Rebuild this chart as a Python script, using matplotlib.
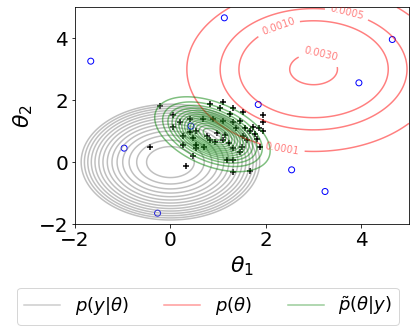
import numpy as np
import matplotlib
matplotlib.use("Agg")
import matplotlib.pyplot as plt
from matplotlib.lines import Line2D

# distribution parameters
lik_mean = [0.0, 0.0]
lik_sd = 1.0
lik_steps = [1, 2, 3, 4, 5, 6, 7, 8, 9, 10, 11, 12, 13, 14]  # r^2 = k/4

prior_mean = [3.0, 3.0]
prior_sd = 1.0
prior_peak = 0.0034
prior_levels = [0.0001, 0.0005, 0.0010, 0.0030]
label_spots = [(2.35, 0.45), (3.70, 4.83), (2.26, 4.37), (3.14, 3.46)]

post_mean = [0.88, 0.90]
post_cov = [[0.27, -0.12], [-0.12, 0.27]]
post_nlev = 14

# samples (black crosses)
cross_x = [-0.22, 0.05, 0.20, 0.05, 0.41, 0.68, 0.41, 0.54, 0.27, 0.47, 0.26, 0.54,
           0.54, -0.43, 0.47, 0.33, 0.70, 1.10, 0.83, 1.04, 1.31, 1.52, 0.90, 1.11,
           1.31, 1.25, 1.46, 1.95, 1.94, 1.38, 1.56, 1.74, 1.67, 1.86, 1.94, 1.52,
           0.97, 1.14, 0.76, 0.94, 1.81, 1.23, 1.49, 1.88, 1.31, 1.46, 1.19, 1.32,
           1.32, 1.67, 0.82, 1.10, 1.60, 1.77]
cross_y = [1.82, 1.53, 1.28, 1.12, 1.40, 1.39, 0.97, 0.99, 0.83, 0.77, 0.56, 0.56,
           0.47, 0.50, 0.21, -0.14, 0.50, 1.95, 1.88, 1.74, 1.76, 1.61, 1.40, 1.33,
           1.28, 1.54, 1.34, 1.53, 1.31, 1.10, 1.10, 1.12, 1.01, 1.10, 1.01, 0.83,
           0.94, 0.88, 0.83, 0.66, 0.74, 0.61, 0.50, 0.50, 0.45, 0.34, 0.07, 0.07,
           -0.32, -0.28, 0.70, 0.70, 0.70, 0.90]

# blue open circles
circ_x = [-1.67, 1.13, 4.65, 3.95, 1.84, 0.43, -0.97, 2.54, 3.24, -0.27]
circ_y = [3.26, 4.66, 3.96, 2.56, 1.86, 1.16, 0.45, -0.25, -0.95, -1.65]

xs = np.linspace(-2, 5, 400)
X, Y = np.meshgrid(xs, xs)

loglik = -0.5 * ((X - lik_mean[0]) ** 2 + (Y - lik_mean[1]) ** 2) / lik_sd ** 2
lik_levels = sorted(-np.array(lik_steps) / 8.0)

prior = prior_peak * np.exp(-0.5 * ((X - prior_mean[0]) ** 2 + (Y - prior_mean[1]) ** 2) / prior_sd ** 2)

P = np.linalg.inv(np.array(post_cov))
dx, dy = X - post_mean[0], Y - post_mean[1]
post = np.exp(-0.5 * (P[0, 0] * dx ** 2 + 2 * P[0, 1] * dx * dy + P[1, 1] * dy ** 2))
post_levels = np.linspace(0, 1, post_nlev + 2)[1:-1]

fig = plt.figure(figsize=(416 / 72, 332 / 72), dpi=72)
ax = fig.add_axes([0.1803, 0.3253, 0.8029, 0.6527])

ax.contour(X, Y, loglik, levels=lik_levels, colors="gray", alpha=0.5,
           linestyles="solid")
cs = ax.contour(X, Y, prior, levels=prior_levels, colors="red", alpha=0.5)
ax.clabel(cs, fmt="%.4f", fontsize=10, manual=label_spots)
ax.contour(X, Y, post, levels=post_levels, colors="green", alpha=0.5)

ax.scatter(cross_x, cross_y, marker="+", color="black", s=36, linewidths=1.5)
ax.scatter(circ_x, circ_y, marker="o", facecolors="none", edgecolors="blue", s=36)

ax.set_xlim(-2, 5)
ax.set_ylim(-2, 5)
ax.set_xticks([-2, 0, 2, 4])
ax.set_yticks([-2, 0, 2, 4])
ax.tick_params(labelsize=20)
ax.set_xlabel(r"$\theta_1$", fontsize=22)
ax.set_ylabel(r"$\theta_2$", fontsize=22)

handles = [Line2D([], [], color="gray", alpha=0.4, lw=1.5),
           Line2D([], [], color="red", alpha=0.4, lw=1.5),
           Line2D([], [], color="green", alpha=0.4, lw=1.5)]
labels = [r"$p(y|\theta)$", r"$p(\theta)$", r"$\tilde{p}(\theta|y)$"]
fig.legend(handles, labels, loc="lower center", ncol=3, fontsize=18,
           bbox_to_anchor=(0.5, -0.005))

fig.savefig("out.png", dpi=72)
